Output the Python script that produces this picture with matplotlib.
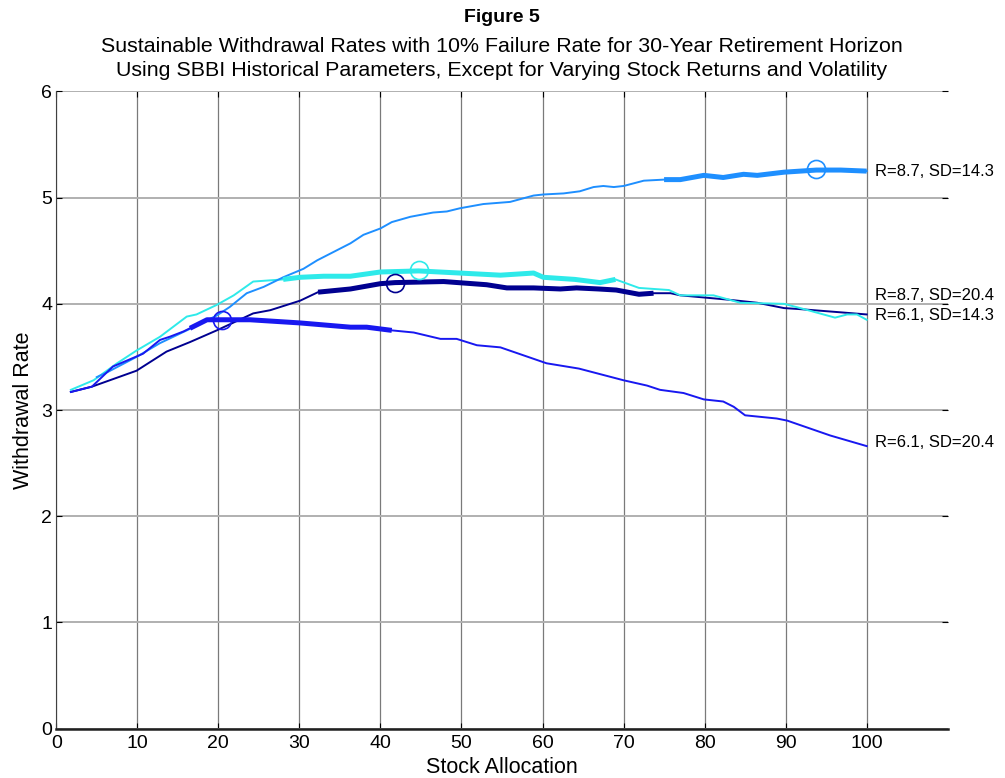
import matplotlib
matplotlib.use("Agg")
import matplotlib.pyplot as plt
import numpy as np

# stock allocation (%) and sustainable withdrawal rate (%) per scenario
x_r87_sd143 = [5, 6.4, 9.9, 12.8, 16.1, 19.8, 21.4, 23.5, 25.6, 28.0, 30.5, 32.2, 36.3, 37.9,
               40, 41.4, 43.7, 46.5, 48.2, 49.8, 52.7, 56, 58.9, 60.1, 62.6, 64.6, 66.3, 67.5,
               68.8, 70, 72.5, 75, 77, 79.9, 82.3, 84.8, 86.5, 89.8, 93.8, 96.8, 100]
y_r87_sd143 = [3.31, 3.36, 3.50, 3.63, 3.75, 3.89, 3.97, 4.10, 4.16, 4.25, 4.33, 4.41, 4.57, 4.65,
               4.71, 4.77, 4.82, 4.86, 4.87, 4.90, 4.94, 4.96, 5.02, 5.03, 5.04, 5.06, 5.10, 5.11,
               5.10, 5.11, 5.16, 5.17, 5.17, 5.21, 5.19, 5.22, 5.21, 5.24, 5.26, 5.26, 5.25]

x_r87_sd204 = [1.8, 4.6, 7.5, 9.9, 12.8, 16.1, 17.3, 19.8, 21.9, 24.3, 28.0, 30.1, 33, 36.3, 40,
               44.7, 49.8, 54.8, 58.9, 60.1, 64, 67.1, 69, 71.9, 75.6, 77, 81.1, 84.4, 89.8,
               91.8, 96.1, 97.6, 98.8, 100]
y_r87_sd204 = [3.19, 3.28, 3.44, 3.56, 3.69, 3.88, 3.90, 3.99, 4.08, 4.21, 4.23, 4.25, 4.26, 4.26,
               4.30, 4.31, 4.29, 4.27, 4.29, 4.25, 4.23, 4.20, 4.23, 4.15, 4.13, 4.08, 4.08, 4.01,
               4.00, 3.96, 3.87, 3.90, 3.90, 3.85]

x_r61_sd143 = [1.8, 4.4, 9.9, 13.6, 16.5, 19.8, 24.3, 26.4, 30.1, 32.3, 36.3, 40, 41.8, 47.8,
               53.1, 55.6, 58.9, 62.2, 64.2, 66.9, 69.1, 71.9, 73.7, 75.8, 77, 82.8, 86.5, 89.8,
               91.8, 96.8, 100]
y_r61_sd143 = [3.17, 3.22, 3.37, 3.55, 3.64, 3.75, 3.91, 3.94, 4.03, 4.11, 4.14, 4.19, 4.20, 4.21,
               4.18, 4.15, 4.15, 4.14, 4.15, 4.14, 4.13, 4.09, 4.10, 4.10, 4.08, 4.04, 4.01, 3.96,
               3.95, 3.92, 3.90]

x_r61_sd204 = [1.8, 4.4, 7.0, 10.7, 12.8, 14.0, 15.7, 16.5, 18.6, 20.6, 23.9, 30.1, 36.3, 38.3,
               41.4, 44.1, 47.4, 49.4, 51.9, 54.8, 60.5, 64.5, 70, 72.9, 74.5, 77.4, 79.9, 82.3,
               83.6, 85, 88.9, 90.2, 95.5, 100]
y_r61_sd204 = [3.17, 3.22, 3.41, 3.53, 3.66, 3.69, 3.74, 3.77, 3.85, 3.85, 3.85, 3.82, 3.78, 3.78,
               3.75, 3.73, 3.67, 3.67, 3.61, 3.59, 3.44, 3.39, 3.28, 3.23, 3.19, 3.16, 3.10, 3.08,
               3.03, 2.95, 2.92, 2.90, 2.76, 2.66]

labels = ["R=6.1, SD=14.3", "R=8.7, SD=20.4", "R=8.7, SD=14.3", "R=6.1, SD=20.4"]
xs = [x_r61_sd143, x_r87_sd204, x_r87_sd143, x_r61_sd204]
ys = [y_r61_sd143, y_r87_sd204, y_r87_sd143, y_r61_sd204]
colors = ["#000090", "#2eeaea", "#1e8fff", "#1818f0"]

# near-optimal allocation range (thick part) and optimum (circle)
near_lo = [32.3, 28.0, 75, 16.5]
near_hi = [73.7, 69, 100, 41.4]
opt_x = [41.8, 44.7, 93.8, 20.5]
opt_y = [4.20, 4.32, 5.27, 3.85]
label_y = [3.89, 4.08, 5.25, 2.69]

fnt = ['Liberation Sans Narrow', 'Liberation Sans']

fig = plt.figure(figsize=(10.05, 7.78), dpi=100)
ax = fig.add_axes([0.056, 0.0636, 0.887, 0.8188])

for i in range(len(labels)):
    x = np.array(xs[i])
    y = np.array(ys[i])
    ax.plot(x, y, color=colors[i], lw=1.4, zorder=3)
    m = (x >= near_lo[i]) & (x <= near_hi[i])
    ax.plot(x[m], y[m], color=colors[i], lw=3.6, zorder=4, solid_capstyle='butt')
    ax.plot(opt_x[i], opt_y[i], 'o', mfc='none', mec=colors[i], ms=13, mew=1.2, zorder=5)
    ax.text(101, label_y[i], labels[i], fontsize=12, va='center', ha='left',
            family='Liberation Sans')

ax.set_xlim(0, 110)
ax.set_ylim(0, 6)
ax.set_xticks(np.arange(0, 101, 10))
ax.set_yticks(np.arange(0, 7, 1))

ax.xaxis.grid(True, color='#7a7a7a', lw=0.9)
ax.yaxis.grid(True, color='#b0b0b0', lw=1.4)
ax.set_axisbelow(True)

for s in ['top', 'right']:
    ax.spines[s].set_visible(False)
ax.spines['left'].set_color('#404040')
ax.spines['bottom'].set_color('#202020')
ax.spines['bottom'].set_linewidth(1.8)

ax.tick_params(direction='in', length=4, top=True, right=True, labelsize=14, pad=3)
ax.tick_params(axis='x', pad=5)
for lab in ax.get_xticklabels() + ax.get_yticklabels():
    lab.set_family(fnt)

ax.set_xlabel('Stock Allocation', fontsize=15.5, family=fnt, labelpad=3)
ax.set_ylabel('Withdrawal Rate', fontsize=15.5, family=fnt, labelpad=5)

cx = 0.4995
fig.text(cx, 1 - 17 / 778, 'Figure 5', fontsize=14, weight='bold', ha='center', va='center',
         family=fnt)
fig.text(cx, 1 - 46 / 778,
         'Sustainable Withdrawal Rates with 10% Failure Rate for 30-Year Retirement Horizon',
         fontsize=15.4, ha='center', va='center', family=fnt)
fig.text(cx, 1 - 70 / 778,
         'Using SBBI Historical Parameters, Except for Varying Stock Returns and Volatility',
         fontsize=15.4, ha='center', va='center', family=fnt)

fig.savefig('out.png', dpi=100)
